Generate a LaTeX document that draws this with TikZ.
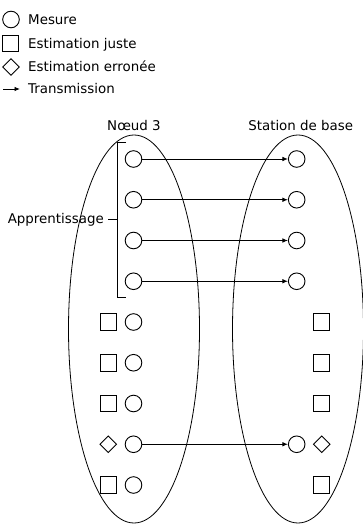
\documentclass[tikz,border=0pt]{standalone}
\usepackage{fontspec}
\setmainfont{DejaVu Sans}
\usetikzlibrary{shapes.geometric,arrows.meta}

\tikzset{
  every node/.style={font=\fontsize{13.4}{16}\selectfont},
  meas/.style={circle,draw,line width=0.9pt,minimum size=16.6pt,inner sep=0pt},
  good/.style={rectangle,draw,line width=0.9pt,minimum size=16.4pt,inner sep=0pt},
  bad/.style={diamond,draw,line width=0.9pt,minimum size=16.8pt,inner sep=0pt,shape aspect=1},
  txt/.style={inner sep=0pt,anchor=base west},
  tx/.style={draw,line width=0.9pt,-{Latex[length=5.5pt,width=4.5pt]}},
  group/.style={ellipse,draw,line width=0.8pt,inner sep=0pt,minimum width=131pt,minimum height=388pt},
}

\begin{document}
\begin{tikzpicture}[x=1pt,y=-1pt]
  \useasboundingbox (0,0) rectangle (362,524);

  % legend
  \node[meas] (lc) at (11,19.5) {};
  \node[txt] (lct) at (28,24.5) {Mesure};
  \node[good] (ls) at (10.5,43.5) {};
  \node[txt] (lst) at (28,48.5) {Estimation juste};
  \node[bad] (ld) at (11,67) {};
  \node[txt] (ldt) at (28,72) {Estimation erronée};
  \coordinate (la) at (3,89);
  \coordinate (lb) at (20,89);
  \draw[tx] (la) -- (lb);
  \node[txt] (lat) at (28,94) {Transmission};

  % the two groups
  \node[group] (node3) at (134,329) {};
  \node[group] (bs) at (298,329) {};
  \node[anchor=base,inner sep=0pt] (n3t) at (134,130) {Nœud 3};
  \node[anchor=base,inner sep=0pt] (bst) at (300.7,130) {Station de base};

  % measurements of node 3
  \foreach \i in {0,...,8}{
    \node[meas] (L\i) at (133.5,{159+40.75*\i}) {};
  }
  % estimates on node 3
  \foreach \i in {4,5,6,8}{
    \node[good] (E\i) at (108.3,{159+40.75*\i}) {};
  }
  \node[bad] (E7) at (108.3,{159+40.75*7}) {};

  % base station
  \foreach \i in {0,1,2,3,7}{
    \node[meas] (R\i) at (296.7,{159+40.75*\i}) {};
    \draw[tx] (L\i) -- (R\i);
  }
  \foreach \i in {4,5,6,8}{
    \node[good] (S\i) at (321.7,{159+40.75*\i}) {};
  }
  \node[bad] (S7) at (321.7,{159+40.75*7}) {};

  % learning bracket
  \coordinate (bt) at (126,142);
  \coordinate (bb) at (126,297.5);
  \coordinate (bm) at (117.3,219.8);
  \coordinate (bk) at (108,219.8);
  \draw[line width=0.9pt] (bt) -- (117.3,142) -- (117.3,297.5) -- (bb);
  \draw[line width=0.9pt] (bm) -- (bk);
  \node[anchor=east,inner sep=0pt] (app) at (104,219.8) {Apprentissage};
\end{tikzpicture}
\end{document}
